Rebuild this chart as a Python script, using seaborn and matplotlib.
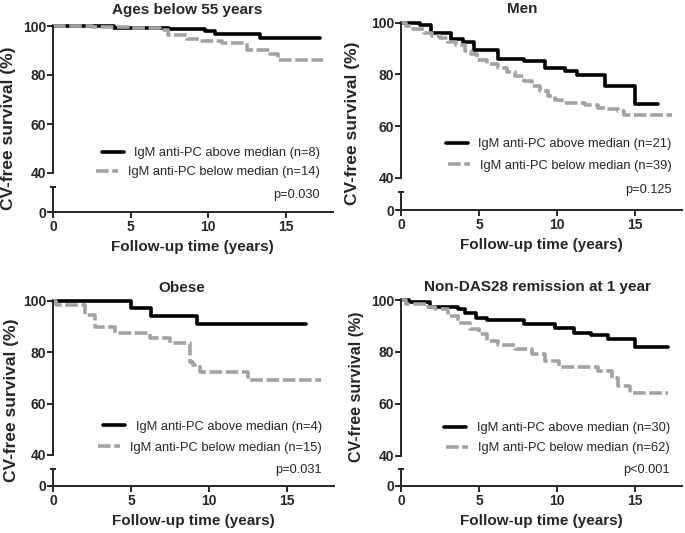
import numpy as np
import pandas as pd
import matplotlib.pyplot as plt
import seaborn as sns
from matplotlib.ticker import FixedLocator


# panel texts
titles = ["Ages below 55 years", "Men", "Obese", "Non-DAS28 remission at 1 year"]
n_above = [8, 21, 4, 30]
n_below = [14, 39, 15, 62]
p_labels = ["p=0.030", "p=0.125", "p=0.031", "p<0.001"]

# Kaplan-Meier step curves (time in years, CV-free survival in %)
age_above_t = [0, 3.9, 7.5, 9.8, 10.4, 13.3, 17.2]
age_above_s = [100, 99.2, 98.6, 97.8, 96.9, 95.0, 95.0]
age_below_t = [0, 2.5, 5.0, 6.9, 7.4, 8.6, 9.4, 10.9, 12.5, 14.0, 14.5, 17.4]
age_below_s = [100, 99.6, 99.1, 98.2, 96.3, 94.6, 93.8, 93.0, 90.4, 88.7, 86.1, 86.1]

men_above_t = [0, 1.2, 1.95, 3.2, 4.0, 4.7, 6.2, 7.9, 9.2, 10.5, 11.3, 13.1, 15.0, 16.5]
men_above_s = [100, 99.2, 96.0, 93.8, 92.5, 89.5, 86.1, 85.0, 82.5, 81.2, 79.6, 75.4, 68.5, 68.5]
men_below_t = [0, 0.3, 0.8, 1.5, 2.0, 2.5, 3.0, 3.5, 4.1, 4.5, 4.9, 5.5, 6.2, 6.8, 7.3,
               7.9, 8.4, 8.9, 9.4, 9.9, 10.3, 11.8, 12.6, 13.2, 13.9, 14.3, 17.4]
men_below_s = [100, 98.6, 97.5, 96.0, 95.0, 94.1, 92.5, 91.5, 88.9, 87.8, 85.7, 84.2, 82.5, 81.0, 79.3,
               77.6, 75.4, 73.5, 71.5, 70.0, 69.0, 68.3, 67.0, 66.5, 65.7, 64.4, 64.4]

obese_above_t = [0, 5.0, 6.3, 9.2, 16.2]
obese_above_s = [100, 97.0, 94.2, 90.8, 90.8]
obese_below_t = [0, 0.2, 2.05, 2.7, 4.0, 6.2, 7.5, 8.6, 8.8, 9.0, 9.4, 12.5, 17.2]
obese_below_s = [100, 98.3, 94.4, 89.9, 87.3, 85.4, 83.4, 83.4, 76.3, 75.0, 72.2, 69.2, 69.2]

das_above_t = [0, 0.5, 1.84, 3.65, 4.1, 4.8, 5.5, 7.9, 9.85, 11.1, 12.2, 13.3, 15.0, 17.1]
das_above_s = [100, 99.2, 97.4, 96.4, 95.1, 93.2, 92.3, 90.6, 89.1, 87.4, 86.4, 84.9, 82.0, 82.0]
das_below_t = [0, 0.3, 1.6, 2.2, 3.0, 3.65, 4.4, 5.0, 5.5, 6.2, 7.3, 8.4, 9.2, 10.1,
               12.6, 13.5, 13.9, 14.7, 17.1]
das_below_s = [100, 98.3, 97.4, 96.4, 93.8, 91.3, 88.7, 86.8, 84.2, 82.5, 81.0, 79.1, 76.5, 74.3,
               72.6, 70.1, 66.9, 64.3, 64.3]

curves = [
    (age_above_t, age_above_s, age_below_t, age_below_s),
    (men_above_t, men_above_s, men_below_t, men_below_s),
    (obese_above_t, obese_above_s, obese_below_t, obese_below_s),
    (das_above_t, das_above_s, das_below_t, das_below_s),
]

# layout in pixels of the 685x533 picture
W, H = 685, 533
x0 = [53, 401, 53, 401]
px_year = [15.53, 15.6, 15.6, 15.6]
y100 = [26, 22.7, 300.7, 300]
y40 = [173, 177.7, 455, 455.7]
ycap = [187, 192, 469.3, 469]
y0 = [212, 210, 485.7, 485.7]
title_x = [187.5, 522.5, 182, 537.5]
title_y = [13.8, 12.8, 292.2, 291.2]
ylab_x = [9, 352, 11.7, 357]
ylab_y = [128, 123, 400, 387]
ylab_size = [12.5, 12.5, 12.5, 11.5]
leg_right = [320, 671.7, 321.7, 670]
leg_y1 = [153.3, 144, 426.7, 428.3]
leg_y2 = [172.3, 165.7, 447.7, 448.3]
p_y = [195, 190, 470, 470]

sns.set_style("ticks")
plt.rcParams['font.family'] = ['Liberation Sans', 'DejaVu Sans']
plt.rcParams['axes.linewidth'] = 1.4

fig = plt.figure(figsize=(6.85, 5.33), dpi=100)

for i in range(4):
    w = 18 * px_year[i]
    ax_up = fig.add_axes([x0[i] / W, 1 - y40[i] / H, w / W, (y40[i] - y100[i]) / H])
    ax_lo = fig.add_axes([x0[i] / W, 1 - y0[i] / H, w / W, (y0[i] - ycap[i]) / H], sharex=ax_up)

    ta, sa, tb, sb = curves[i]
    df = pd.concat([
        pd.DataFrame({"time": ta, "surv": sa, "group": "above"}),
        pd.DataFrame({"time": tb, "surv": sb, "group": "below"}),
    ])
    sns.lineplot(data=df, x="time", y="surv", hue="group", style="group",
                 palette={"above": "black", "below": "#a3a3a3"},
                 dashes={"above": "", "below": (3.5, 1.0)},
                 drawstyle="steps-post", estimator=None, sort=False,
                 linewidth=2.6, legend=False, ax=ax_up, clip_on=False)

    ax_up.set_xlim(0, 18)
    ax_up.set_ylim(40, 100)
    for s in ["top", "right", "bottom"]:
        ax_up.spines[s].set_visible(False)
    for s in ["top", "right"]:
        ax_lo.spines[s].set_visible(False)
    ax_up.set_yticks([40, 60, 80, 100])
    ax_up.tick_params(axis="x", bottom=False, labelbottom=False)
    ax_up.tick_params(axis="y", direction="out", length=4, width=1.4, labelsize=10, pad=1)
    ax_up.set_xlabel("")
    ax_up.set_ylabel("")
    for lab in ax_up.get_yticklabels():
        lab.set_fontweight("bold")

    ax_lo.set_ylim(0, 10)
    ax_lo.set_yticks([0])
    ax_lo.yaxis.set_minor_locator(FixedLocator([10]))
    ax_lo.tick_params(axis="y", which="minor", direction="inout", length=5, width=1.4)
    ax_lo.tick_params(axis="both", which="major", direction="out", length=4, width=1.4,
                      labelsize=10, pad=2)
    ax_lo.tick_params(axis="y", which="major", pad=1)
    ax_lo.set_xticks([0, 5, 10, 15])
    for lab in ax_lo.get_xticklabels() + ax_lo.get_yticklabels():
        lab.set_fontweight("bold")
    ax_lo.set_xlabel("Follow-up time (years)", fontsize=11, fontweight="bold", labelpad=4)
    ax_lo.patch.set_alpha(0)
    ax_up.patch.set_alpha(0)

    # titles and y label
    fig.text(title_x[i] / W, 1 - title_y[i] / H, titles[i], fontsize=11, fontweight="bold",
             ha="center", va="baseline")
    fig.text(ylab_x[i] / W, 1 - ylab_y[i] / H, "CV-free survival (%)", rotation=90,
             fontsize=ylab_size[i], fontweight="bold", ha="center", va="center")

    # legend rows, each right aligned
    lines = ax_up.get_lines()
    labels = [f"IgM anti-PC above median (n={n_above[i]})",
              f"IgM anti-PC below median (n={n_below[i]})"]
    legs = []
    for line, label, yy in zip(lines[:2], labels, [leg_y1[i], leg_y2[i]]):
        leg = ax_up.legend([line], [label], loc="center right",
                           bbox_to_anchor=(leg_right[i] / W, 1 - yy / H),
                           bbox_transform=fig.transFigure, frameon=False,
                           borderpad=0, borderaxespad=0, handlelength=1.7,
                           handletextpad=0.8, fontsize=9.3)
        legs.append(leg)
    ax_up.add_artist(legs[0])

    fig.text(leg_right[i] / W, 1 - p_y[i] / H, p_labels[i], fontsize=9.2,
             ha="right", va="center")

fig.savefig("out.png", dpi=100)
